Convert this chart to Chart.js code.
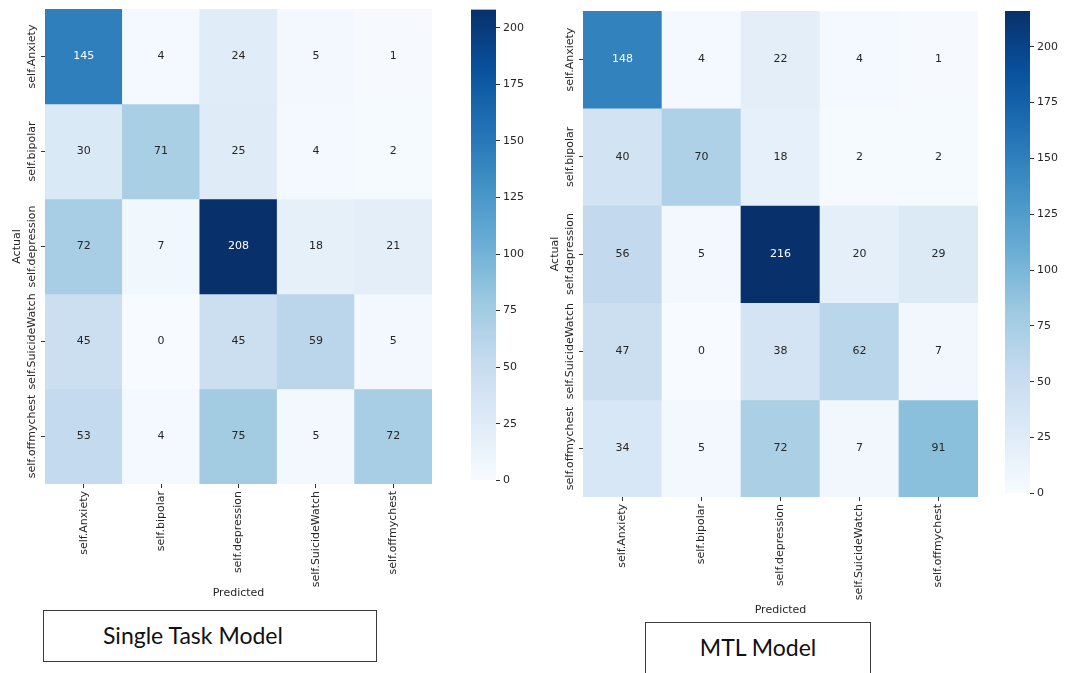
<!DOCTYPE html>
<html>
<head>
<meta charset="utf-8">
<title>Confusion matrices: Single Task Model vs MTL Model</title>
<script src="https://cdn.jsdelivr.net/npm/chart.js@4.4.1/dist/chart.umd.min.js"></script>
<style>
  html, body { margin: 0; padding: 0; background: #ffffff; width: 1065px; height: 673px; overflow: hidden; }
  .panel { position: absolute; }
  .panel canvas { display: block; }
  .caption {
    position: absolute; box-sizing: border-box;
    border: 1.5px solid #3a3a3a; background: #ffffff;
    font-family: Lato, "Liberation Sans", sans-serif; color: #111111;
    font-size: 23px; white-space: nowrap;
  }
</style>
</head>
<body>
<div class="panel" id="wrapA"><canvas id="heatA"></canvas></div>
<div class="panel" id="wrapAbar"><canvas id="barA"></canvas></div>
<div class="panel" id="wrapB"><canvas id="heatB"></canvas></div>
<div class="panel" id="wrapBbar"><canvas id="barB"></canvas></div>
<div class="caption" id="capA">Single Task Model</div>
<div class="caption" id="capB">MTL Model</div>

<script>
// ---- data ----
const predictedLabels = ['self.Anxiety', 'self.bipolar', 'self.depression', 'self.SuicideWatch', 'self.offmychest'];
const actualLabels    = ['self.Anxiety', 'self.bipolar', 'self.depression', 'self.SuicideWatch', 'self.offmychest'];

// rows = actual class, columns = predicted class
const singleTaskCounts = [
  [145,  4,  24,  5,  1],
  [ 30, 71,  25,  4,  2],
  [ 72,  7, 208, 18, 21],
  [ 45,  0,  45, 59,  5],
  [ 53,  4,  75,  5, 72]
];
const mtlCounts = [
  [148,  4,  22,  4,  1],
  [ 40, 70,  18,  2,  2],
  [ 56,  5, 216, 20, 29],
  [ 47,  0,  38, 62,  7],
  [ 34,  5,  72,  7, 91]
];

const colorbarStep = 25;
const xAxisTitle = 'Predicted';
const yAxisTitle = 'Actual';

// ---- styling ----
const TEXT = '#262626';
const FONT = 'DejaVu Sans';
// Blues sequential palette stops
const BLUES = ['#f7fbff', '#deebf7', '#c6dbef', '#9ecae1', '#6baed6', '#4292c6', '#2171b5', '#08519c', '#08306b'];

function hexToRgb(h) {
  return [parseInt(h.slice(1, 3), 16), parseInt(h.slice(3, 5), 16), parseInt(h.slice(5, 7), 16)];
}
const BLUES_RGB = BLUES.map(hexToRgb);

function bluesRgb(f) {
  f = Math.max(0, Math.min(1, f));
  const pos = f * (BLUES_RGB.length - 1);
  const i = Math.min(Math.floor(pos), BLUES_RGB.length - 2);
  const t = pos - i;
  const a = BLUES_RGB[i], b = BLUES_RGB[i + 1];
  return [0, 1, 2].map(k => Math.round(a[k] + (b[k] - a[k]) * t));
}
function rgbStr(c) { return 'rgb(' + c[0] + ',' + c[1] + ',' + c[2] + ')'; }

function luminance(c) {
  const lin = c.map(v => {
    v /= 255;
    return v <= 0.03928 ? v / 12.92 : Math.pow((v + 0.055) / 1.055, 2.4);
  });
  return 0.2126 * lin[0] + 0.7152 * lin[1] + 0.0722 * lin[2];
}

// ---- layout (page pixels) ----
const LAYOUT = {
  A: { heat: { left: 0, top: 0, width: 445, height: 600, padTop: 9, padRight: 13, yWidth: 45, xHeight: 116, titlePad: 11 },
       bar:  { left: 460, top: 0, width: 80, height: 490, padLeft: 11, padTop: 9, padBottom: 6, yWidth: 44 },
       cap:  { left: 43, top: 610, width: 334, height: 52, padLeft: 59 } },
  B: { heat: { left: 540, top: 0, width: 450, height: 617, padTop: 11, padRight: 12, yWidth: 43, xHeight: 120, titlePad: 9 },
       bar:  { left: 990, top: 0, width: 75, height: 503, padLeft: 15, padTop: 11, padBottom: 6, yWidth: 35 },
       cap:  { left: 645, top: 622, width: 226, height: 62, padLeft: 0 } }
};

function place(el, box) {
  el.style.left = box.left + 'px';
  el.style.top = box.top + 'px';
  el.style.width = box.width + 'px';
  el.style.height = box.height + 'px';
}
function sizeCanvas(canvas, box) {
  canvas.width = box.width;
  canvas.height = box.height;
  canvas.style.width = box.width + 'px';
  canvas.style.height = box.height + 'px';
}

// writes each count at the centre of its cell
const cellValues = {
  id: 'cellValues',
  afterDatasetsDraw(chart) {
    const counts = chart.config.options.plugins.cellValues.counts;
    const ctx = chart.ctx;
    ctx.save();
    ctx.font = '11px "' + FONT + '"';
    ctx.textAlign = 'center';
    ctx.textBaseline = 'middle';
    chart.data.datasets.forEach((ds, r) => {
      const meta = chart.getDatasetMeta(r);
      meta.data.forEach((bar, c) => {
        const v = counts[r][c];
        ctx.fillStyle = ds.textColors[c];
        ctx.fillText(String(v), bar.x, (bar.y + bar.base) / 2);
      });
    });
    ctx.restore();
  }
};

// row names, rotated and centred on their tick like the column names
const rowLabels = {
  id: 'rowLabels',
  afterDraw(chart) {
    const y = chart.scales.y;
    const ctx = chart.ctx;
    const x = y.right - y.options.grid.tickLength - 3 - 6;
    ctx.save();
    ctx.font = '11px "' + FONT + '"';
    ctx.fillStyle = TEXT;
    ctx.textAlign = 'center';
    ctx.textBaseline = 'middle';
    y.ticks.forEach((t, i) => {
      const py = y.getPixelForValue(t.value);
      ctx.save();
      ctx.translate(x, py);
      ctx.rotate(-Math.PI / 2);
      ctx.fillText(actualLabels[i], 0, 0);
      ctx.restore();
    });
    ctx.restore();
  }
};

function heatmap(canvasId, wrapId, counts, L) {
  const wrap = document.getElementById(wrapId);
  const canvas = document.getElementById(canvasId);
  place(wrap, L);
  sizeCanvas(canvas, L);
  const vmax = Math.max(...counts.flat());

  const datasets = actualLabels.map((name, r) => {
    const cols = counts[r].map(v => bluesRgb(v / vmax));
    return {
      label: name,
      data: predictedLabels.map(() => [r, r + 1]),
      backgroundColor: cols.map(rgbStr),
      textColors: cols.map(c => (luminance(c) > 0.408 ? TEXT : '#ffffff')),
      borderWidth: 0,
      categoryPercentage: 1,
      barPercentage: 1
    };
  });

  return new Chart(canvas, {
    type: 'bar',
    data: { labels: predictedLabels, datasets },
    plugins: [cellValues, rowLabels],
    options: {
      responsive: false,
      animation: false,
      events: [],
      layout: { padding: { top: L.padTop, right: L.padRight, bottom: 0, left: 0 } },
      plugins: {
        legend: { display: false },
        tooltip: { enabled: false },
        cellValues: { counts }
      },
      scales: {
        x: {
          stacked: true,
          border: { display: false },
          grid: { display: true, drawOnChartArea: false, drawTicks: true, tickLength: 4, color: '#333333', lineWidth: 1, offset: false },
          ticks: { autoSkip: false, minRotation: 90, maxRotation: 90, padding: 3, color: TEXT, font: { family: FONT, size: 11 } },
          title: { display: true, text: xAxisTitle, color: TEXT, font: { family: FONT, size: 11 }, padding: { top: 0, bottom: 0 } },
          afterFit(s) { s.height = L.xHeight; }
        },
        y: {
          type: 'linear',
          min: 0,
          max: actualLabels.length,
          reverse: true,
          border: { display: false },
          grid: { display: true, drawOnChartArea: false, drawTicks: true, tickLength: 4, color: '#333333', lineWidth: 1 },
          ticks: { display: false },
          afterBuildTicks(s) { s.ticks = actualLabels.map((_, i) => ({ value: i + 0.5 })); },
          title: { display: true, text: yAxisTitle, color: TEXT, font: { family: FONT, size: 11 }, padding: { top: L.titlePad, bottom: 0 } },
          afterFit(s) { s.width = L.yWidth; }
        }
      }
    }
  });
}

function colorbar(canvasId, wrapId, counts, L) {
  const wrap = document.getElementById(wrapId);
  const canvas = document.getElementById(canvasId);
  place(wrap, L);
  sizeCanvas(canvas, L);
  const vmax = Math.max(...counts.flat());

  return new Chart(canvas, {
    type: 'bar',
    data: {
      labels: [''],
      datasets: [{
        data: [[0, vmax]],
        backgroundColor(c) {
          const chart = c.chart;
          if (!chart.chartArea) return BLUES[4];
          const ys = chart.scales.y;
          const g = chart.ctx.createLinearGradient(0, ys.getPixelForValue(0), 0, ys.getPixelForValue(vmax));
          BLUES.forEach((col, i) => g.addColorStop(i / (BLUES.length - 1), col));
          return g;
        },
        borderWidth: 0,
        categoryPercentage: 1,
        barPercentage: 1
      }]
    },
    options: {
      responsive: false,
      animation: false,
      events: [],
      layout: { padding: { top: L.padTop, right: 0, bottom: L.padBottom, left: L.padLeft } },
      plugins: { legend: { display: false }, tooltip: { enabled: false } },
      scales: {
        x: { display: false },
        y: {
          position: 'right',
          min: 0,
          max: vmax,
          border: { display: false },
          grid: { display: true, drawOnChartArea: false, drawTicks: true, tickLength: 4, color: '#333333', lineWidth: 1 },
          ticks: { stepSize: colorbarStep, includeBounds: false, padding: 3, color: TEXT, font: { family: FONT, size: 11 } },
          afterFit(s) { s.width = L.yWidth; }
        }
      }
    }
  });
}

function caption(id, L) {
  const el = document.getElementById(id);
  place(el, L);
  el.style.lineHeight = (L.height - 3) + 'px';
  if (L.padLeft) { el.style.paddingLeft = L.padLeft + 'px'; }
  else { el.style.textAlign = 'center'; el.style.lineHeight = '48px'; }
}

heatmap('heatA', 'wrapA', singleTaskCounts, LAYOUT.A.heat);
colorbar('barA', 'wrapAbar', singleTaskCounts, LAYOUT.A.bar);
heatmap('heatB', 'wrapB', mtlCounts, LAYOUT.B.heat);
colorbar('barB', 'wrapBbar', mtlCounts, LAYOUT.B.bar);
caption('capA', LAYOUT.A.cap);
caption('capB', LAYOUT.B.cap);
</script>
</body>
</html>
